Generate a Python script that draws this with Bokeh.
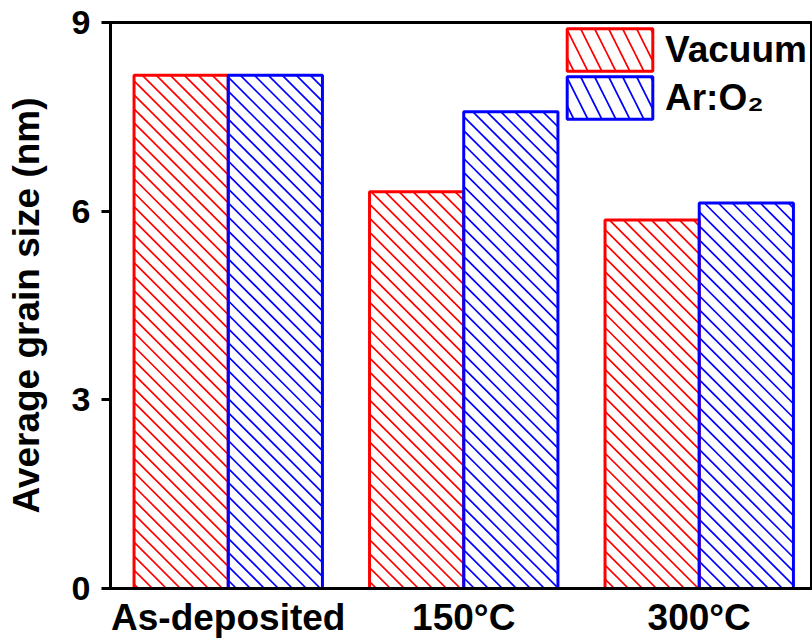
from bokeh.plotting import figure
from bokeh.models import ColumnDataSource, Range1d, FixedTicker, Legend, LegendItem
from bokeh.transform import dodge
from bokeh.embed import file_html
from bokeh.resources import INLINE

categories = ["As-deposited", "150°C", "300°C"]
vacuum = [8.16, 6.31, 5.86]
ar_o2 = [8.16, 7.58, 6.13]
y_ticks = [0, 3, 6, 9]

FONT = "Liberation Sans"
RED = "#ff0000"
BLUE = "#0000ff"

W, H = 812, 640
BL, BT, BB, BR = 110, 22, 51, 0
X_END = 2.981
Y_END = 9
BAR_W = 0.4
OFFSET = 0.2
HATCH_STEP = 14  # px, horizontal spacing of hatch lines

xpos = [i + 0.5 for i in range(len(categories))]
src = ColumnDataSource(dict(x=xpos, vac=vacuum, aro=ar_o2))

p = figure(width=W, height=H, output_backend="svg", toolbar_location=None,
           x_range=Range1d(0, X_END), y_range=Range1d(0, Y_END),
           min_border_left=BL, min_border_top=BT, min_border_bottom=BB, min_border_right=BR)
p.background_fill_color = "white"
p.border_fill_color = "white"
p.grid.visible = False
p.outline_line_color = "black"
p.outline_line_width = 3

# pixel scale of the frame, used only to keep hatch lines at 45 degrees on screen
px_x = (W - BL - BR) / X_END
px_y = (H - BT - BB) / Y_END


def hatch_segments(centers, tops):
    x0s, y0s, x1s, y1s = [], [], [], []
    for xc, top in zip(centers, tops):
        L = (xc - BAR_W / 2) * px_x
        R = (xc + BAR_W / 2) * px_x
        T = top * px_y
        k = int(L // HATCH_STEP)
        while k * HATCH_STEP <= R + T + HATCH_STEP:
            c = k * HATCH_STEP
            xa = max(L, c - T)
            xb = min(R, c)
            if xb - xa > 0.5:
                x0s.append(xa / px_x); y0s.append((c - xa) / px_y)
                x1s.append(xb / px_x); y1s.append((c - xb) / px_y)
            k += 1
    return dict(x0=x0s, y0=y0s, x1=x1s, y1=y1s)


vac_x = [x - OFFSET for x in xpos]
aro_x = [x + OFFSET for x in xpos]

# white bar bodies
p.vbar(x=dodge("x", -OFFSET, range=p.x_range), width=BAR_W, top="vac", source=src,
       fill_color="white", line_color=None)
p.vbar(x=dodge("x", OFFSET, range=p.x_range), width=BAR_W, top="aro", source=src,
       fill_color="white", line_color=None)

# 45-degree hatching inside bars
p.segment(x0="x0", y0="y0", x1="x1", y1="y1", source=ColumnDataSource(hatch_segments(vac_x, vacuum)),
          line_color=RED, line_width=1.7)
p.segment(x0="x0", y0="y0", x1="x1", y1="y1", source=ColumnDataSource(hatch_segments(aro_x, ar_o2)),
          line_color=BLUE, line_width=1.7)

# bar outlines
p.vbar(x=dodge("x", -OFFSET, range=p.x_range), width=BAR_W, top="vac", source=src,
       fill_color=None, line_color=RED, line_width=3)
p.vbar(x=dodge("x", OFFSET, range=p.x_range), width=BAR_W, top="aro", source=src,
       fill_color=None, line_color=BLUE, line_width=3)

# hidden renderers that only provide hatched legend swatches
l1 = p.vbar(x=dodge("x", -OFFSET, range=p.x_range), width=BAR_W, top="vac", source=src,
            fill_color="white", line_color=RED, line_width=3,
            hatch_pattern="\\", hatch_color=RED, hatch_scale=28, hatch_weight=1.7, visible=False)
l2 = p.vbar(x=dodge("x", OFFSET, range=p.x_range), width=BAR_W, top="aro", source=src,
            fill_color="white", line_color=BLUE, line_width=3,
            hatch_pattern="\\", hatch_color=BLUE, hatch_scale=28, hatch_weight=1.7, visible=False)

# x axis
p.xaxis.ticker = FixedTicker(ticks=xpos)
p.xaxis.major_label_overrides = {x: c for x, c in zip(xpos, categories)}
p.xaxis.major_tick_line_color = None
p.xaxis.minor_tick_line_color = None
p.xaxis.axis_line_width = 3
p.xaxis.major_label_text_font = FONT
p.xaxis.major_label_text_font_style = "bold"
p.xaxis.major_label_text_font_size = "37px"
p.xaxis.major_label_text_color = "black"
p.xaxis.major_label_standoff = 2

# y axis
p.yaxis.ticker = FixedTicker(ticks=y_ticks)
p.yaxis.minor_tick_line_color = None
p.yaxis.axis_line_width = 3
p.yaxis.major_tick_line_width = 3
p.yaxis.major_tick_out = 9
p.yaxis.major_tick_in = 0
p.yaxis.major_label_text_font = FONT
p.yaxis.major_label_text_font_style = "bold"
p.yaxis.major_label_text_font_size = "34px"
p.yaxis.major_label_text_color = "black"
p.yaxis.major_label_standoff = 11
p.yaxis.axis_label = "Average grain size (nm)"
p.yaxis.axis_label_text_font = FONT
p.yaxis.axis_label_text_font_style = "bold"
p.yaxis.axis_label_text_font_size = "37px"
p.yaxis.axis_label_text_color = "black"
p.yaxis.axis_label_standoff = 22

leg_kw = dict(orientation="vertical", glyph_width=107, glyph_height=53, spacing=0,
              padding=0, margin=0, label_standoff=2, label_text_font=FONT,
              label_text_font_style="bold", label_text_font_size="37px",
              label_text_color="black", border_line_color=None, background_fill_alpha=0,
              inactive_fill_alpha=0)
leg1 = Legend(items=[LegendItem(label="Vacuum", renderers=[l1])], location=(446, 512), **leg_kw)
leg2 = Legend(items=[LegendItem(label="Ar:O₂", renderers=[l2])], location=(446, 464), **leg_kw)
p.add_layout(leg1, "center")
p.add_layout(leg2, "center")

open("out.html", "w").write(file_html(p, INLINE))
